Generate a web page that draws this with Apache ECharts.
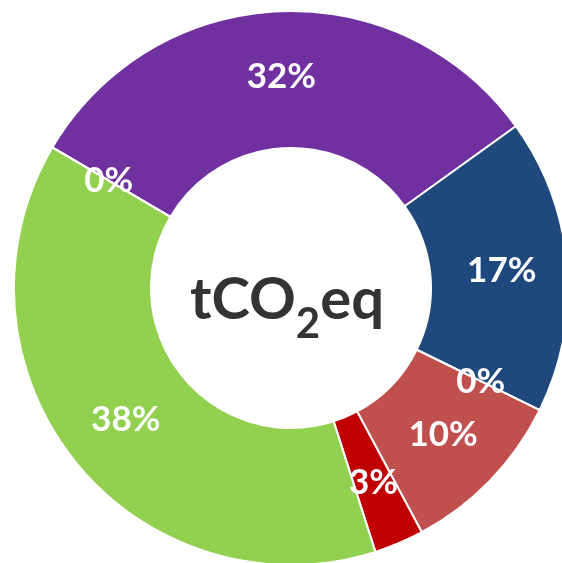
<!DOCTYPE html>
<html>
<head>
<meta charset="utf-8">
<script src="https://cdn.jsdelivr.net/npm/echarts@6/dist/echarts.min.js"></script>
<style>
html,body{margin:0;padding:0;background:#fff;}
#chart{width:562px;height:563px;}
</style>
</head>
<body>
<div id="chart"></div>
<script>
// Data (percent shares), clockwise order
const categories = ['Cat 1', 'Cat 2', 'Cat 3', 'Cat 4', 'Cat 5', 'Cat 6', 'Cat 7'];
const values = [31.6, 17.2, 0, 9.9, 2.9, 38.4, 0];
const colors = ['#7030A0', '#1F497D', '#4F81BD', '#C0504D', '#C00000', '#92D050', '#F79646'];
const centerTitle = ['tCO', '2', 'eq'];

const chart = echarts.init(document.getElementById('chart'), null, {renderer: 'canvas'});
chart.setOption({
  animation: false,
  backgroundColor: '#ffffff',
  title: {
    text: '{a|' + centerTitle[0] + '}{b|' + centerTitle[1] + '}{a|' + centerTitle[2] + '}',
    left: 282,
    top: 294,
    textAlign: 'center',
    textVerticalAlign: 'middle',
    textStyle: {
      rich: {
        a: {fontFamily: 'Lato', fontWeight: 'bold', fontSize: 58, color: '#333333', lineHeight: 60, verticalAlign: 'bottom'},
        b: {fontFamily: 'Lato', fontWeight: 'bold', fontSize: 42, color: '#333333', lineHeight: 60, verticalAlign: 'bottom', padding: [0, 0, -16, 0]}
      }
    }
  },
  series: [{
    type: 'pie',
    center: [291, 288],
    radius: [140, 277],
    startAngle: 149.5,
    clockwise: true,
    percentPrecision: 0,
    avoidLabelOverlap: false,
    minShowLabelAngle: 0,
    stillShowZeroSum: true,
    emphasis: {disabled: true},
    itemStyle: {borderColor: '#ffffff', borderWidth: 2},
    label: {
      show: true,
      position: 'inside',
      formatter: '{d}%',
      color: '#ffffff',
      fontFamily: 'Lato',
      fontWeight: 'bold',
      fontSize: 35
    },
    labelLine: {show: false},
    data: categories.map((c, i) => ({name: c, value: values[i], itemStyle: {color: colors[i]}}))
  }]
});
</script>
</body>
</html>
